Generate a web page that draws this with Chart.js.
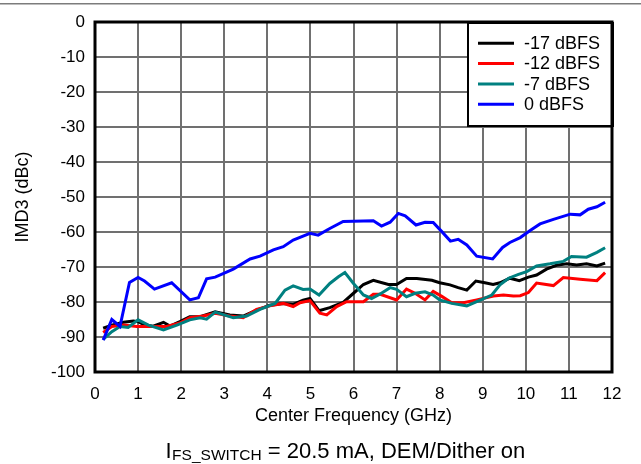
<!DOCTYPE html>
<html>
<head>
<meta charset="utf-8">
<script src="https://cdn.jsdelivr.net/npm/chart.js@4.4.1/dist/chart.umd.min.js"></script>
<style>
  html, body { margin: 0; padding: 0; background: #fff; }
  canvas { display: block; }
</style>
</head>
<body>
<canvas id="c" width="641" height="464"></canvas>
<script>
// ---- Data ----
const seriesLabels = ['-17 dBFS', '-12 dBFS', '-7 dBFS', '0 dBFS'];
const seriesColors = ['#000000', '#ff0000', '#008080', '#0000ff'];

const freqM17 = [0.19,0.39,0.66,0.89,1.0,1.16,1.35,1.59,1.74,1.97,2.2,2.44,2.79,3.13,3.44,3.75,4.06,4.37,4.6,4.83,4.99,5.2,5.45,5.76,6.0,6.23,6.46,6.81,7.0,7.23,7.47,7.82,8.0,8.24,8.43,8.63,8.84,9.05,9.24,9.4,9.63,9.85,10.06,10.25,10.48,10.71,10.95,11.18,11.41,11.65,11.84];
const imdM17  = [-87.5,-86.6,-85.8,-85.4,-85.6,-86.6,-86.9,-85.8,-86.9,-85.6,-84.2,-84.2,-82.8,-83.7,-84,-82.3,-80.9,-80.4,-80.7,-79.5,-79,-82.5,-81.6,-80.1,-77.5,-75,-73.8,-75,-75,-73.3,-73.3,-73.8,-74.5,-75.1,-75.9,-76.6,-74,-74.5,-75,-74.5,-73.2,-73.9,-72.9,-72.3,-70.6,-69.5,-69.1,-69.4,-69.1,-69.7,-68.9];

const freqM12 = [0.19,0.39,0.66,0.97,1.35,1.66,1.97,2.2,2.51,2.79,3.13,3.44,3.75,4.06,4.37,4.6,4.76,4.99,5.22,5.38,5.61,5.84,6.23,6.46,6.62,7.0,7.23,7.43,7.66,7.85,8.05,8.28,8.55,8.86,9.25,9.48,9.71,9.87,10.06,10.25,10.64,10.87,11.26,11.65,11.84];
const imdM12  = [-88.7,-87,-86.6,-87,-87,-87,-86,-84.5,-84,-83.2,-84,-84.5,-82.1,-81.1,-80.4,-81.3,-80.2,-79.6,-83.2,-83.7,-81.3,-79.9,-79.9,-77.8,-77.8,-79.4,-76.3,-77.5,-79.4,-77,-78.4,-80.2,-80.2,-79.4,-78.3,-78,-78.3,-78.2,-77.3,-74.6,-75.3,-73,-73.5,-73.9,-71.6];

const freqM7 = [0.19,0.39,0.58,0.77,1.0,1.24,1.59,1.9,2.2,2.44,2.59,2.79,3.21,3.52,3.83,4.18,4.41,4.6,4.83,4.99,5.2,5.45,5.65,5.8,6.0,6.23,6.42,6.62,6.85,7.0,7.23,7.43,7.66,7.85,8.0,8.28,8.63,8.86,9.21,9.4,9.6,9.83,10.02,10.25,10.56,10.87,11.06,11.41,11.65,11.84];
const imdM7  = [-90.7,-88.5,-87,-87.3,-85.1,-86.6,-88,-86.6,-85.1,-84.5,-84.9,-82.9,-84.5,-84,-82.1,-80.4,-76.6,-75.4,-76.4,-76.3,-78,-74.7,-72.8,-71.6,-74.7,-78,-79,-77.7,-75.9,-76.4,-78.5,-77.5,-77.1,-78,-79.4,-80.4,-81.1,-79.9,-78,-75.1,-73.2,-72.1,-71.3,-69.7,-69.1,-68.4,-67,-67.2,-65.8,-64.5];

const freq0 = [0.19,0.39,0.58,0.8,1.0,1.15,1.38,1.78,2.2,2.4,2.59,2.79,3.21,3.6,3.83,4.14,4.37,4.6,4.99,5.18,5.45,5.76,6.46,6.65,6.85,7.04,7.2,7.45,7.66,7.85,8.05,8.25,8.43,8.63,8.86,9.23,9.46,9.63,9.87,10.1,10.33,10.64,11.03,11.26,11.45,11.65,11.84];
const imd0  = [-90.9,-85,-87,-74.4,-73,-74,-76.3,-74.5,-79.4,-78.8,-73.4,-72.9,-70.6,-67.7,-66.9,-65.1,-64.2,-62.3,-60.4,-60.9,-59,-57,-56.8,-58.3,-57.2,-54.7,-55.4,-58,-57.2,-57.3,-59.9,-62.6,-62.1,-63.7,-66.9,-67.7,-64.4,-63,-61.6,-59.6,-57.7,-56.4,-54.9,-55.1,-53.5,-52.8,-51.5];

const xTitle = 'Center Frequency (GHz)';
const yTitle = 'IMD3 (dBc)';
const subMain = 'I';
const subScript = 'FS_SWITCH';
const subRest = ' = 20.5 mA, DEM/Dither on';

const FONT = "'Liberation Sans', Arial, sans-serif";

function pts(xs, ys) { return xs.map((x, i) => ({ x: x, y: ys[i] })); }

const seriesData = [pts(freqM17, imdM17), pts(freqM12, imdM12), pts(freqM7, imdM7), pts(freq0, imd0)];

// Draw order: blue on top, black at bottom (dataset 0 drawn last in Chart.js)
const drawIdx = [3, 2, 1, 0];
const datasets = drawIdx.map(i => ({
  label: seriesLabels[i],
  data: seriesData[i],
  borderColor: seriesColors[i],
  backgroundColor: seriesColors[i],
  borderWidth: 3,
  pointRadius: 0,
  tension: 0,
  fill: false
}));

const decorPlugin = {
  id: 'decor',
  beforeDraw(chart) {
    const ctx = chart.ctx;
    ctx.save();
    ctx.fillStyle = '#ffffff';
    ctx.fillRect(0, 0, chart.width, chart.height);
    ctx.fillStyle = '#7c7c7c';
    ctx.fillRect(0, 3, chart.width, 1.5);
    ctx.restore();
  },
  afterDraw(chart) {
    const ctx = chart.ctx;
    const a = chart.chartArea;
    ctx.save();
    // legend box
    const lx = 468, ly = 23, lw = 145, lh = 103;
    ctx.fillStyle = '#fff';
    ctx.fillRect(lx, ly, lw, lh);
    ctx.strokeStyle = '#000';
    ctx.lineWidth = 2;
    ctx.strokeRect(lx, ly, lw, lh);
    const rows = [43.3, 63.5, 84, 104.3];
    ctx.font = '18px ' + FONT;
    ctx.textBaseline = 'middle';
    ctx.textAlign = 'left';
    for (let i = 0; i < seriesLabels.length; i++) {
      ctx.strokeStyle = seriesColors[i];
      ctx.lineWidth = 3;
      ctx.beginPath();
      ctx.moveTo(478, rows[i]);
      ctx.lineTo(514, rows[i]);
      ctx.stroke();
      ctx.fillStyle = '#000';
      ctx.fillText(seriesLabels[i], 524, rows[i] + 1);
    }
    // plot border
    ctx.strokeStyle = '#000';
    ctx.lineWidth = 3;
    ctx.strokeRect(a.left, a.top, a.right - a.left, a.bottom - a.top);
    // subtitle with subscript
    ctx.fillStyle = '#000';
    ctx.textBaseline = 'alphabetic';
    const mainFont = '22px ' + FONT;
    const subFont = '15.5px ' + FONT;
    let x = 165.5;
    const base = 458;
    ctx.font = mainFont;
    ctx.fillText(subMain, x, base);
    x += ctx.measureText(subMain).width + 0.5;
    ctx.font = subFont;
    ctx.fillText(subScript, x, base + 2);
    x += ctx.measureText(subScript).width;
    ctx.font = mainFont;
    ctx.fillText(subRest, x, base);
    ctx.restore();
  }
};

new Chart(document.getElementById('c'), {
  type: 'line',
  data: { datasets: datasets },
  options: {
    responsive: false,
    animation: false,
    devicePixelRatio: 1,
    layout: { padding: { top: 22, right: 29, left: 0, bottom: 0 } },
    plugins: { legend: { display: false }, tooltip: { enabled: false } },
    scales: {
      x: {
        type: 'linear',
        min: 0, max: 12,
        afterFit(s) { s.height = 92; },
        ticks: { stepSize: 1, color: '#000', font: { size: 17, family: FONT }, padding: 12, maxRotation: 0 },
        grid: { color: '#707070', lineWidth: 2, drawTicks: false },
        border: { display: false },
        title: { display: true, text: xTitle, color: '#000', font: { size: 18, family: FONT }, padding: { top: 0, bottom: 37 } }
      },
      y: {
        type: 'linear',
        min: -100, max: 0,
        afterFit(s) { s.width = 95; },
        ticks: { stepSize: 10, color: '#000', font: { size: 17, family: FONT }, padding: 10 },
        grid: { color: '#707070', lineWidth: 2, drawTicks: false },
        border: { display: false },
        title: { display: true, text: yTitle, color: '#000', font: { size: 18, family: FONT }, padding: { top: 12, bottom: 0 } }
      }
    }
  },
  plugins: [decorPlugin]
});
</script>
</body>
</html>
